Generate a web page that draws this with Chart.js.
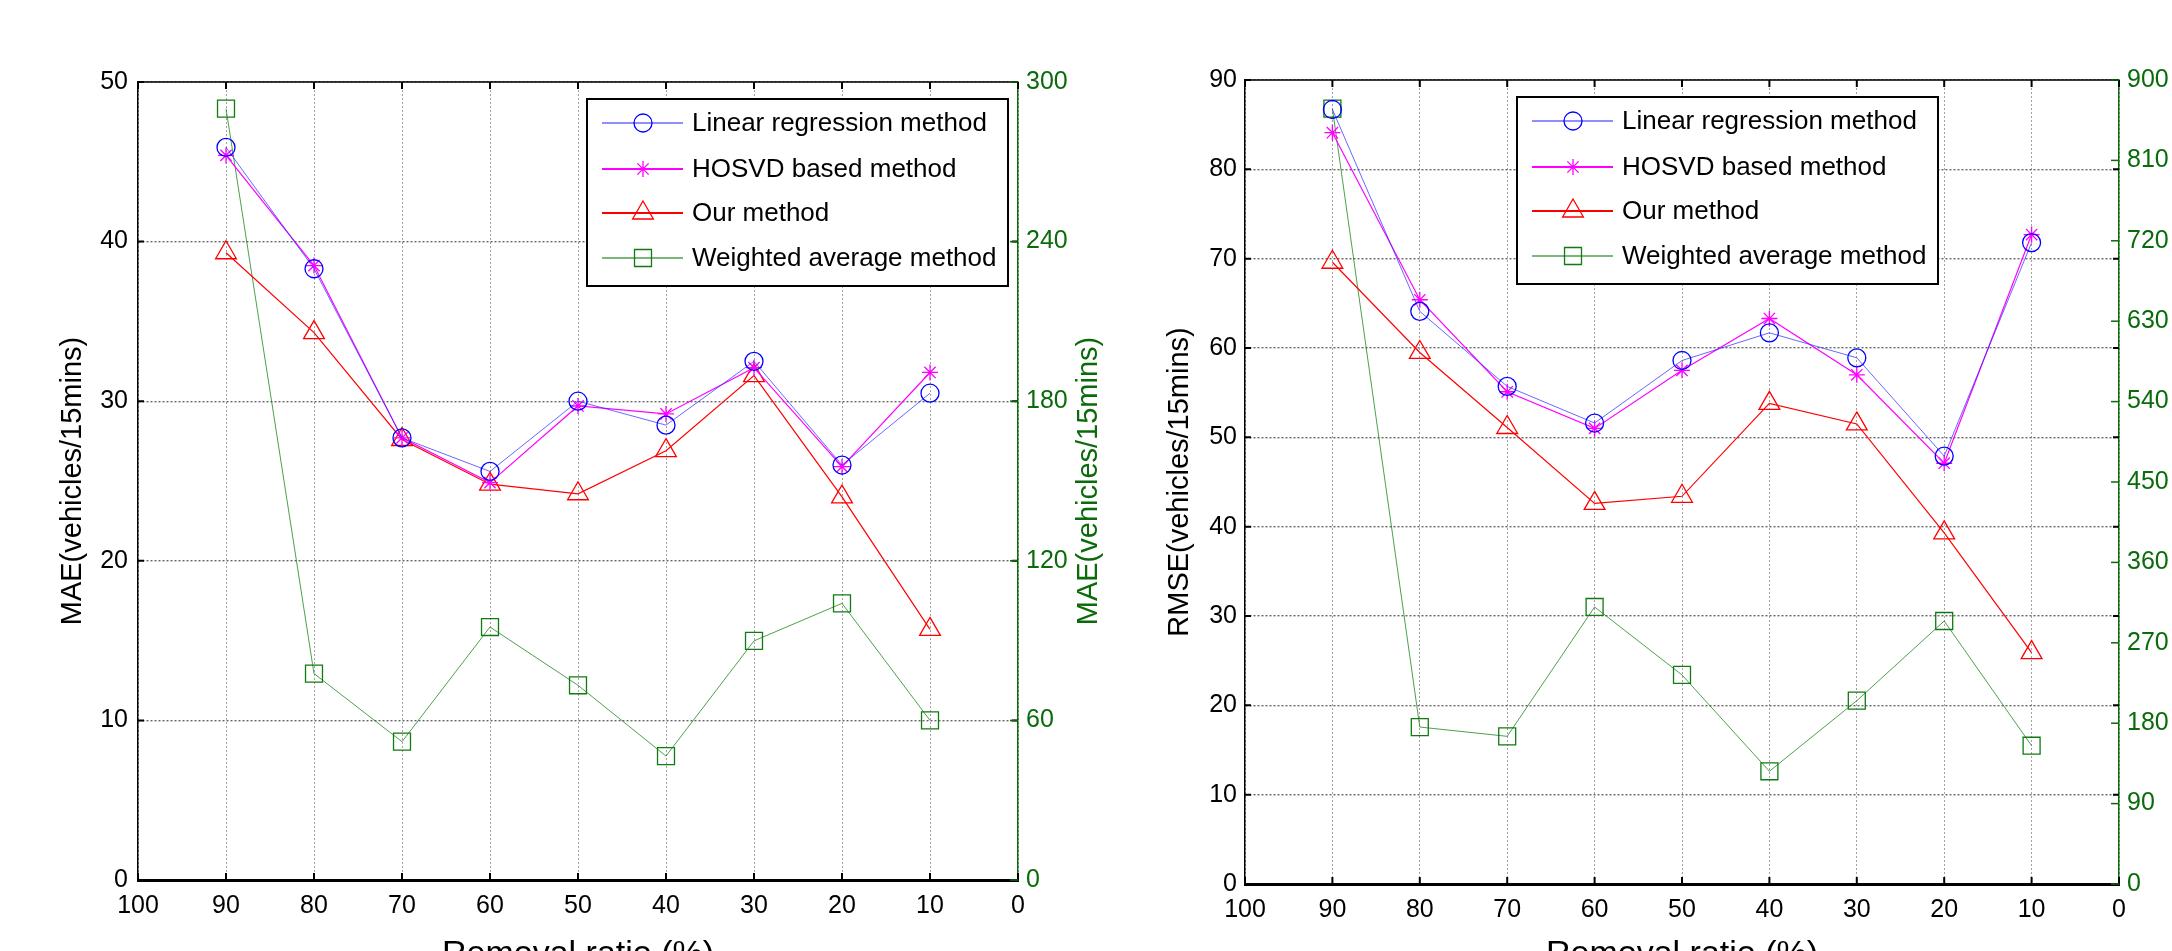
<!DOCTYPE html>
<html>
<head>
<meta charset="utf-8">
<script src="https://cdn.jsdelivr.net/npm/chart.js@4.4.0/dist/chart.umd.min.js"></script>
<style>
  html, body { margin: 0; padding: 0; background: #fff; overflow: hidden; width: 2172px; height: 951px; }
  canvas { position: absolute; top: 0; }
  #maeChart { left: 0; }
  #rmseChart { left: 1110px; }
</style>
</head>
<body>
<canvas id="maeChart" width="1140" height="1000"></canvas>
<canvas id="rmseChart" width="1062" height="1000"></canvas>
<script>
// removal ratio (%) on the x axis
const removalRatio = [90, 80, 70, 60, 50, 40, 30, 20, 10];
const seriesNames = ['Linear regression method', 'HOSVD based method', 'Our method', 'Weighted average method'];

// MAE (left plot); weighted average is read on the right axis
const maeLinear   = [45.9, 38.3, 27.7, 25.6, 30.0, 28.5, 32.5, 26.0, 30.5];
const maeHosvd    = [45.4, 38.5, 27.7, 24.9, 29.7, 29.2, 32.1, 25.9, 31.8];
const maeOurs     = [39.3, 34.3, 27.6, 24.8, 24.2, 26.9, 31.6, 24.0, 15.7];
const maeWeighted = [290, 77.6, 52.0, 95.1, 73.2, 46.6, 89.9, 104.0, 60.0];

// RMSE (right plot)
const rmseLinear   = [86.7, 64.1, 55.7, 51.6, 58.6, 61.7, 58.9, 47.9, 71.8];
const rmseHosvd    = [84.1, 65.4, 55.1, 51.0, 57.5, 63.3, 57.0, 47.1, 72.7];
const rmseOurs     = [69.6, 59.5, 51.1, 42.6, 43.4, 53.8, 51.5, 39.3, 25.9];
const rmseWeighted = [868, 175.7, 165.3, 310.1, 234.0, 126.2, 205.2, 294.4, 154.8];

// axis ranges / ticks
const xRange = [0, 100, 10];
const maeLeftRange = [0, 50, 10];
const maeRightRange = [0, 300, 60];
const rmseLeftRange = [0, 90, 10];
const rmseRightRange = [0, 900, 90];

const FONT = '"Liberation Sans", Arial, sans-serif';
const GREEN = '#0b6b0b';

const styles = [
  { line: 'rgba(40,40,255,0.7)', mark: '#0000ff', point: 'circle', r: 9, lw: 1 },
  { line: '#ff00ff', mark: '#ff00ff', point: 'star', r: 8, lw: 1.2 },
  { line: '#ff0000', mark: '#ff0000', point: 'triangle', r: 12, lw: 1.2 },
  { line: 'rgba(0,120,0,0.7)', mark: '#117a11', point: 'rect', r: 12, lw: 1 }
];

function toPoints(vals) {
  return vals.map((v, i) => ({ x: removalRatio[i], y: v }));
}

function drawMarker(ctx, style, x, y) {
  const r = style.r;
  ctx.beginPath();
  if (style.point === 'circle') {
    ctx.arc(x, y, r, 0, Math.PI * 2);
  } else if (style.point === 'triangle') {
    ctx.moveTo(x, y - r);
    ctx.lineTo(x + r * 0.866, y + r / 2);
    ctx.lineTo(x - r * 0.866, y + r / 2);
    ctx.closePath();
  } else if (style.point === 'rect') {
    const s = r / Math.SQRT2;
    ctx.rect(x - s, y - s, 2 * s, 2 * s);
  } else {
    for (let k = 0; k < 4; k++) {
      const a = k * Math.PI / 4;
      ctx.moveTo(x - Math.cos(a) * r, y - Math.sin(a) * r);
      ctx.lineTo(x + Math.cos(a) * r, y + Math.sin(a) * r);
    }
  }
  ctx.stroke();
}

// legend box, inward ticks, top border and right-axis title
const decorPlugin = {
  id: 'decor',
  afterDraw(chart, args, opts) {
    const ctx = chart.ctx;
    const { left, right, top, bottom } = chart.chartArea;
    const sx = chart.scales.x, sy = chart.scales.y, sy2 = chart.scales.y2;
    ctx.save();
    // top border
    ctx.strokeStyle = '#000';
    ctx.lineWidth = 1.5;
    ctx.beginPath(); ctx.moveTo(left, top); ctx.lineTo(right, top); ctx.stroke();
    // inward ticks
    ctx.lineWidth = 2;
    sx.ticks.forEach(t => {
      const p = sx.getPixelForValue(t.value);
      ctx.beginPath();
      ctx.moveTo(p, bottom); ctx.lineTo(p, bottom - 7);
      ctx.moveTo(p, top); ctx.lineTo(p, top + 7);
      ctx.stroke();
    });
    sy.ticks.forEach(t => {
      const p = sy.getPixelForValue(t.value);
      ctx.beginPath();
      ctx.moveTo(left, p); ctx.lineTo(left + 6, p);
      ctx.moveTo(right, p); ctx.lineTo(right - 6, p);
      ctx.stroke();
    });
    ctx.strokeStyle = GREEN;
    ctx.lineWidth = 1.5;
    sy2.ticks.forEach(t => {
      const p = sy2.getPixelForValue(t.value);
      ctx.beginPath();
      ctx.moveTo(right, p); ctx.lineTo(right - 8, p);
      ctx.stroke();
    });

    // right axis title, reading bottom to top
    if (opts.rightTitle) {
      ctx.save();
      ctx.translate(opts.rightTitleX, (top + bottom) / 2);
      ctx.rotate(-Math.PI / 2);
      ctx.fillStyle = GREEN;
      ctx.font = '29px ' + FONT;
      ctx.textAlign = 'center';
      ctx.textBaseline = 'middle';
      ctx.fillText(opts.rightTitle, 0, 0);
      ctx.restore();
    }

    // legend
    const bx = opts.legendX, by = opts.legendY, bw = 421, bh = 187;
    ctx.fillStyle = '#fff';
    ctx.fillRect(bx, by, bw, bh);
    ctx.strokeStyle = '#000';
    ctx.lineWidth = 2;
    ctx.strokeRect(bx, by, bw, bh);
    const rows = [24, 70, 114, 159];
    ctx.font = '26px ' + FONT;
    ctx.textBaseline = 'middle';
    ctx.textAlign = 'left';
    chart.data.datasets.forEach((ds, i) => {
      const st = styles[i];
      const y = by + rows[i];
      ctx.strokeStyle = st.line;
      ctx.lineWidth = st.lw + 0.6;
      ctx.beginPath(); ctx.moveTo(bx + 15, y); ctx.lineTo(bx + 96, y); ctx.stroke();
      ctx.strokeStyle = st.mark;
      ctx.lineWidth = 1.3;
      drawMarker(ctx, st, bx + 56, y);
      ctx.fillStyle = '#000';
      ctx.fillText(ds.label, bx + 105, y + 1);
    });
    ctx.restore();
  }
};

function makeChart(id, cfg) {
  const datasets = cfg.series.map((vals, i) => ({
    label: seriesNames[i],
    data: toPoints(vals),
    yAxisID: i === 3 ? 'y2' : 'y',
    borderColor: styles[i].line,
    borderWidth: styles[i].lw,
    pointStyle: styles[i].point,
    pointRadius: styles[i].r,
    pointBorderColor: styles[i].mark,
    pointBorderWidth: 1.3,
    pointBackgroundColor: 'rgba(0,0,0,0)',
    fill: false,
    tension: 0
  }));
  const tickFont = { family: FONT, size: 25 };
  return new Chart(document.getElementById(id), {
    type: 'line',
    data: { datasets },
    plugins: [decorPlugin],
    options: {
      responsive: false,
      animation: false,
      events: [],
      layout: { padding: { top: cfg.top, left: 0, right: 0, bottom: 0 } },
      plugins: {
        legend: { display: false },
        tooltip: { enabled: false },
        decor: {
          legendX: cfg.legendX, legendY: cfg.legendY,
          rightTitle: cfg.rightTitle, rightTitleX: cfg.rightTitleX
        }
      },
      scales: {
        x: {
          type: 'linear',
          reverse: true,
          min: xRange[0], max: xRange[1],
          afterFit: s => { s.height = 1000 - cfg.bottom; },
          ticks: { stepSize: xRange[2], color: '#000', font: tickFont, padding: 11, maxRotation: 0, autoSkip: false },
          grid: { color: '#a0a0a0', lineWidth: 1, drawTicks: false },
          border: { display: true, color: '#000', width: 3, dash: [2, 2] },
          title: { display: true, text: 'Removal ratio (%)', color: '#000', font: { family: FONT, size: 34 }, padding: { top: 0, bottom: 25 } }
        },
        y: {
          position: 'left',
          min: cfg.leftRange[0], max: cfg.leftRange[1],
          afterFit: s => { s.width = cfg.leftWidth; },
          ticks: { stepSize: cfg.leftRange[2], color: '#000', font: tickFont, padding: cfg.leftPad },
          grid: { color: '#666', lineWidth: 1.4, drawTicks: false },
          border: { display: true, color: '#000', width: 1.5, dash: [2, 2] },
          title: { display: true, text: cfg.leftTitle, color: '#000', font: { family: FONT, size: 29 }, padding: { top: cfg.leftTitlePad, bottom: 0 } }
        },
        y2: {
          position: 'right',
          min: cfg.rightRange[0], max: cfg.rightRange[1],
          afterFit: s => { s.width = cfg.rightWidth; },
          ticks: { stepSize: cfg.rightRange[2], color: GREEN, font: tickFont, padding: 8 },
          grid: { drawOnChartArea: false, drawTicks: false },
          border: { display: true, color: GREEN, width: 1.5 }
        }
      }
    }
  });
}

makeChart('maeChart', {
  series: [maeLinear, maeHosvd, maeOurs, maeWeighted],
  leftRange: maeLeftRange, rightRange: maeRightRange,
  top: 82, bottom: 880,
  leftWidth: 138, rightWidth: 1140 - 1018,
  leftPad: 10, leftTitlePad: 56,
  leftTitle: 'MAE(vehicles/15mins)',
  rightTitle: 'MAE(vehicles/15mins)', rightTitleX: 1089,
  legendX: 587, legendY: 99
});

makeChart('rmseChart', {
  series: [rmseLinear, rmseHosvd, rmseOurs, rmseWeighted],
  leftRange: rmseLeftRange, rightRange: rmseRightRange,
  top: 80, bottom: 884,
  leftWidth: 1245 - 1110, rightWidth: 1062 - (2119 - 1110),
  leftPad: 8, leftTitlePad: 53,
  leftTitle: 'RMSE(vehicles/15mins)',
  rightTitle: null, rightTitleX: 0,
  legendX: 1517 - 1110, legendY: 97
});
</script>
</body>
</html>
